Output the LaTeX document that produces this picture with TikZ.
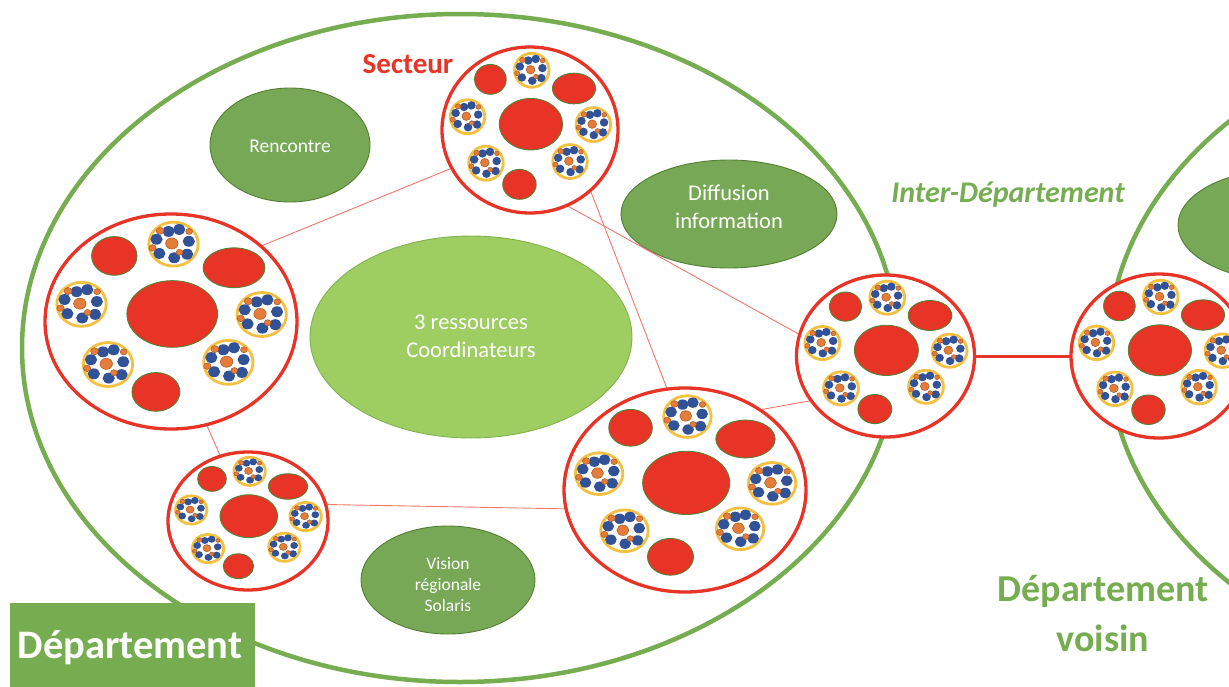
\documentclass[tikz,border=0pt]{standalone}
\usepackage{fontspec}
\setmainfont{Carlito}
\usetikzlibrary{shapes.geometric}
\definecolor{secred}{RGB}{232,52,38}
\definecolor{linkred}{RGB}{240,120,110}
\definecolor{deptgreen}{RGB}{118,173,80}
\definecolor{nodegreen}{RGB}{119,168,86}
\definecolor{nodeborder}{RGB}{84,126,52}
\definecolor{lightgreen}{RGB}{158,205,98}
\definecolor{lightborder}{RGB}{130,178,80}
\definecolor{ingreen}{RGB}{84,130,53}
\definecolor{ringyellow}{RGB}{244,192,64}
\definecolor{dotblue}{RGB}{50,82,152}
\definecolor{dotorange}{RGB}{228,124,58}
\definecolor{dotorangeb}{RGB}{170,90,35}
\tikzset{
  deptline/.style={draw=deptgreen, line width=4.5pt},
  greennode/.style={ellipse, fill=nodegreen, draw=nodeborder, line width=0.9pt, inner sep=0pt},
  lightnode/.style={ellipse, fill=lightgreen, draw=lightborder, line width=0.9pt, inner sep=0pt},
  nodetext/.style={text=white, align=center, inner sep=0pt},
  sectornode/.style={ellipse, draw=secred, fill=white, line width=3.3pt, inner sep=0pt, outer sep=0pt},
  innerred/.style={fill=secred, draw=ingreen, line width=0.9pt},
  ringstyle/.style={draw=ringyellow, fill=white, line width=2.8pt},
  bluedot/.style={fill=dotblue},
  orangedot/.style={fill=dotorange, draw=dotorangeb, line width=0.5pt},
  link/.style={draw=linkred, line width=0.9pt},
  biglink/.style={draw=secred, line width=3pt},
}
\newcommand\drawcluster[2]{%
  \begin{scope}[shift={(#1,#2)}, xscale=0.225, yscale=0.235]
    \path[ringstyle] (0,0) circle (0.87);
    \foreach \bx/\by in {-0.175/0.5, 0.2/0.58, -0.6/0.19, 0.54/0.11, -0.5/-0.37, 0.025/-0.54, 0.48/-0.4}
      {\path[bluedot] (\bx,\by) circle (0.215);}
    \path[orangedot] (-0.06,0.025) circle (0.22);
    \path[orangedot] (-0.475,0.525) circle (0.14);
    \path[orangedot] (0.55,0.5) circle (0.12);
    \path[orangedot] (-0.74,-0.15) circle (0.13);
    \path[orangedot] (0.21,-0.325) circle (0.12);
  \end{scope}}
\newcommand\drawsector[5]{%
  \node[sectornode, minimum width=2*#4, minimum height=2*#5] (#1) at (#2,#3) {};
  \begin{scope}[shift={(#2,#3)}, xscale=#4, yscale=-#5]
    \path[innerred] (0.01,0.07) ellipse [x radius=0.36, y radius=0.31];
    \path[innerred] (-0.45,0.61) ellipse [x radius=0.18, y radius=0.18];
    \path[innerred] (0.5,0.5) ellipse [x radius=0.245, y radius=0.185];
    \path[innerred] (-0.12,-0.655) ellipse [x radius=0.19, y radius=0.18];
    \drawcluster{0.02}{0.72}
    \drawcluster{-0.71}{0.16}
    \drawcluster{0.72}{0.065}
    \drawcluster{-0.50}{-0.40}
    \drawcluster{0.455}{-0.38}
  \end{scope}}
\begin{document}
\begin{tikzpicture}[x=1pt,y=-1pt]
\useasboundingbox (0,0) rectangle (1229,686);
\clip (0,0) rectangle (1229,686);
\fill[white] (0,0) rectangle (1229,686);
% department outlines
\path[deptline] (460,348) ellipse [x radius=438, y radius=334];
\path[deptline] (1546,352) ellipse [x radius=438, y radius=334];
% green nodes
\node[greennode, minimum width=160pt, minimum height=114pt] (renc) at (290,145) {};
\node[nodetext, font=\fontsize{19.5}{23}\selectfont] (renctext) at (290,146) {Rencontre};
\node[greennode, minimum width=216pt, minimum height=108pt] (diff) at (729,214) {};
\node[nodetext, font=\fontsize{22.5}{28}\selectfont] (difftext) at (729,207) {Diffusion\\information};
\node[lightnode, minimum width=322pt, minimum height=202pt] (coord) at (471,337) {};
\node[nodetext, font=\fontsize{22.5}{28}\selectfont] (coordtext) at (471,336) {3 ressources\\Coordinateurs};
\node[greennode, minimum width=174pt, minimum height=108pt] (vision) at (448,580) {};
\node[nodetext, font=\fontsize{17.5}{21}\selectfont] (visiontext) at (448,585) {Vision\\régionale\\Solaris};
\node[greennode, minimum width=216pt, minimum height=112pt] (voisnode) at (1286,225) {};
% sector anchors
\node[sectornode, draw=none, fill=none, minimum width=176, minimum height=166] (S1) at (530,130) {};
\node[sectornode, draw=none, fill=none, minimum width=252, minimum height=215] (S2) at (171,321.5) {};
\node[sectornode, draw=none, fill=none, minimum width=178, minimum height=162] (S3) at (885.5,356) {};
\node[sectornode, draw=none, fill=none, minimum width=242, minimum height=204] (S4) at (685,490) {};
\node[sectornode, draw=none, fill=none, minimum width=160, minimum height=138] (S5) at (248,521) {};
\node[sectornode, draw=none, fill=none, minimum width=176, minimum height=164] (S6) at (1159,356) {};
% connectors
\path[link] (S1.206.6) -- (S2.40.7);
\path[link] (S1.296) -- (S3.166.5);
\path[link] (S1.315) -- (S4.100.6);
\path[link] (S4.47.5) -- (S3.211.4);
\path[link] (S2.289.2) -- (S5.113.7);
\path[link] (S5.12.8) -- (S4.189.2);
\path[biglink] (S3.east) -- (S6.west);
% sector drawings
\drawsector{T1}{530}{130}{88}{83}
\drawsector{T2}{171}{321.5}{126}{107.5}
\drawsector{T3}{885.5}{356}{89}{81}
\drawsector{T4}{685}{490}{121}{102}
\drawsector{T5}{248}{521}{80}{69}
\drawsector{T6}{1159}{356}{88}{82}
% labels
\node[text=secred, font=\bfseries\fontsize{29}{33}\selectfont] (sect) at (408,64) {Secteur};
\node[text=deptgreen, font=\bfseries\itshape\fontsize{30}{34}\selectfont] (inter) at (1008,195) {Inter-Département};
\node[fill=deptgreen, minimum width=245pt, minimum height=90pt, inner sep=0pt, anchor=north west] (deptbox) at (10,603) {};
\node[text=white, font=\bfseries\fontsize{40.5}{44}\selectfont] (depttext) at (130,648) {Département};
\node[text=deptgreen, align=center, font=\bfseries\fontsize{38}{50}\selectfont] (voisin) at (1103,614) {Département\\voisin};
\end{tikzpicture}
\end{document}
